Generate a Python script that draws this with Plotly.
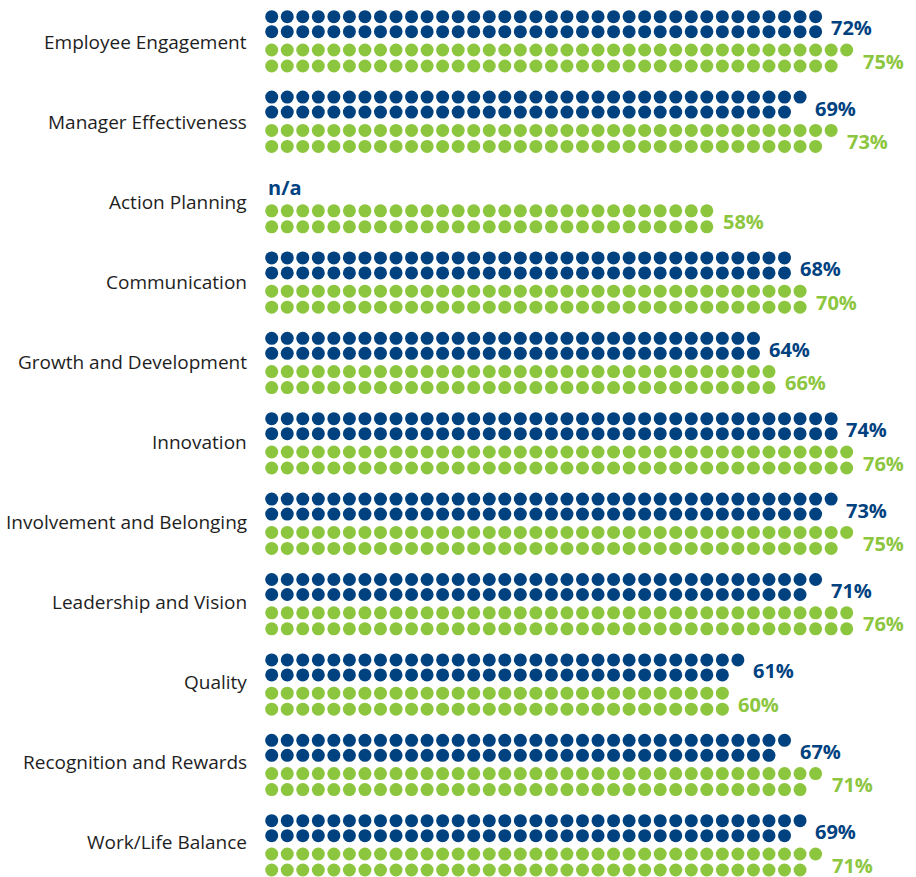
import plotly.graph_objects as go

categories = ["Employee Engagement", "Manager Effectiveness", "Action Planning",
              "Communication", "Growth and Development", "Innovation",
              "Involvement and Belonging", "Leadership and Vision", "Quality",
              "Recognition and Rewards", "Work/Life Balance"]
blue_values = [72, 69, None, 68, 64, 74, 73, 71, 61, 67, 69]
green_values = [75, 73, 58, 70, 66, 76, 75, 76, 60, 71, 71]

BLUE = "#00427F"
GREEN = "#8CC63F"
FONT = "Open Sans"

# pixel-space layout helpers (x in dot units, y in pixel rows)
X0, DX = 271.7, 15.54
W, H = 916, 877
GROUP_Y0, GROUP_DY = 16.7, 80.4
ROW_OFF = [0, 15, 33.3, 49.3]

fig = go.Figure()

def dots(n, ya, yb):
    top = (n + 1) // 2
    bot = n // 2
    xs = list(range(top)) + list(range(bot))
    ys = [ya] * top + [yb] * bot
    return xs, ys, top

annotations = []
for c, (cat, bv, gv) in enumerate(zip(categories, blue_values, green_values)):
    base = GROUP_Y0 + GROUP_DY * c
    r = [base + o for o in ROW_OFF]
    if bv is not None:
        xs, ys, top = dots(bv, r[0], r[1])
        fig.add_trace(go.Scatter(x=xs, y=ys, mode="markers", showlegend=False,
                                 marker=dict(color=BLUE, size=13, line=dict(width=0)),
                                 hoverinfo="skip"))
        annotations.append(dict(x=top - 1 + 0.85, y=r[1] - 4, text=f"<b>{bv}%</b>",
                                xanchor="left", yanchor="middle", showarrow=False,
                                font=dict(family=FONT, size=20, color=BLUE)))
    else:
        annotations.append(dict(x=-0.35, y=r[1] - 5, text="<b>n/a</b>",
                                xanchor="left", yanchor="middle", showarrow=False,
                                font=dict(family=FONT, size=20, color=BLUE)))
    xs, ys, top = dots(gv, r[2], r[3])
    fig.add_trace(go.Scatter(x=xs, y=ys, mode="markers", showlegend=False,
                             marker=dict(color=GREEN, size=13, line=dict(width=0)),
                             hoverinfo="skip"))
    annotations.append(dict(x=top - 1 + 0.9, y=r[3] - 5, text=f"<b>{gv}%</b>",
                            xanchor="left", yanchor="middle", showarrow=False,
                            font=dict(family=FONT, size=20, color=GREEN)))
    annotations.append(dict(x=(249 - X0) / DX, y=41.5 + 80 * c, text=cat,
                            xanchor="right", yanchor="middle", showarrow=False,
                            font=dict(family=FONT, size=19, color="#1E1E1E")))

fig.update_layout(
    width=W, height=H,
    margin=dict(l=0, r=0, t=0, b=0),
    plot_bgcolor="white", paper_bgcolor="white",
    xaxis=dict(range=[-X0 / DX, (W - X0) / DX], visible=False, fixedrange=True),
    yaxis=dict(range=[H, 0], visible=False, fixedrange=True),
    annotations=annotations,
)

fig.write_html("out.html", config={"displayModeBar": False},
               post_script="document.body.style.margin='0';document.body.style.overflow='hidden';")
